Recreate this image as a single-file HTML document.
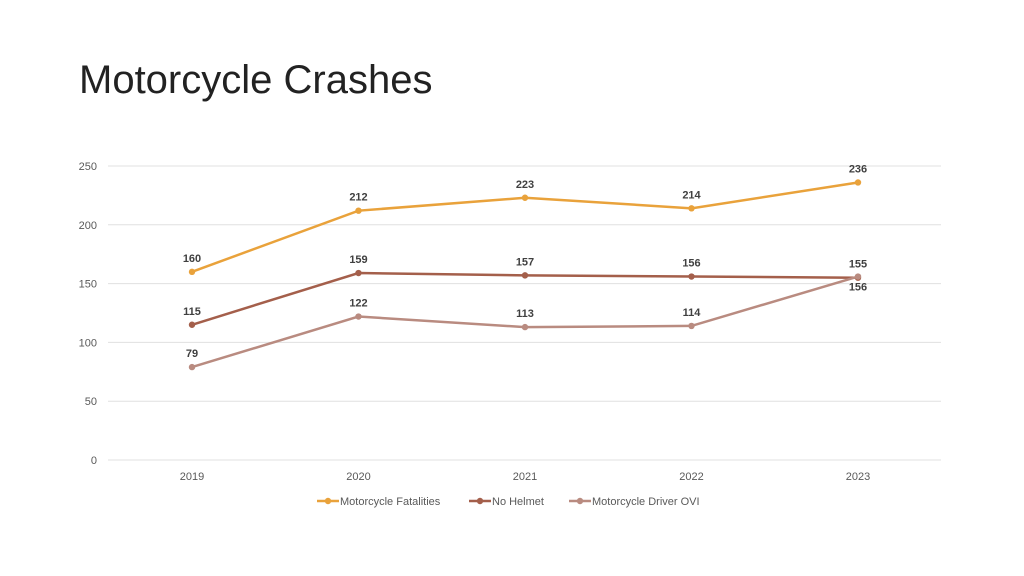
<!DOCTYPE html>
<html><head><meta charset="utf-8"><style>
body{margin:0;background:#fff;width:1024px;height:576px;overflow:hidden;font-family:"Liberation Sans",sans-serif}
h1{position:absolute;left:79px;top:58px;margin:0;font-weight:normal;font-size:40px;color:#222;font-family:"Liberation Sans",sans-serif}
</style></head><body>
<h1>Motorcycle Crashes</h1>
<svg id="c" width="1024" height="576" style="position:absolute;left:0;top:0"></svg>
<script>
const years=["2019","2020","2021","2022","2023"];
const fatalities=[160,212,223,214,236];
const noHelmet=[115,159,157,156,155];
const ovi=[79,122,113,114,156];
const yTicks=[0,50,100,150,200,250];
const seriesNames=["Motorcycle Fatalities","No Helmet","Motorcycle Driver OVI"];
const svg=document.getElementById('c');const NS='http://www.w3.org/2000/svg';
const x=i=>192+i*166.5;const y=v=>460-v*(294/250);
function mk(t,a,p){const e=document.createElementNS(NS,t);for(const k in a)e.setAttribute(k,a[k]);(p||svg).appendChild(e);return e;}
yTicks.forEach(v=>{
const g=mk('line',{x1:108,x2:941,y1:y(v),y2:y(v),stroke:'#e0e0e0','stroke-width':1});


const t=mk('text',{x:97,y:y(v)+4,'text-anchor':'end','font-size':11,fill:'#595959'});t.textContent=v;


});
years.forEach((yr,i)=>{const t=mk('text',{x:x(i),y:480,'text-anchor':'middle','font-size':11,fill:'#595959'});t.textContent=yr;

});
const cols=['#E9A23B','#A45F4B','#B98B80'];
[fatalities,noHelmet,ovi].forEach((d,s)=>{
const pl=mk('polyline',{points:d.map((v,i)=>x(i)+','+y(v)).join(' '),fill:'none',stroke:cols[s],'stroke-width':2.5});


d.forEach((v,i)=>{
const c=mk('circle',{cx:x(i),cy:y(v),r:3.2,fill:cols[s]});


const below=(s==2&&i==4);
const t=mk('text',{x:x(i),y:below?y(v)+14:y(v)-10,'text-anchor':'middle','font-size':11,'font-weight':'bold',fill:'#404040'});t.textContent=v;


});});
const lx=[317,469,569];
seriesNames.forEach((n,s)=>{
const g=mk('g',{});


mk('line',{x1:lx[s],x2:lx[s]+22,y1:501,y2:501,stroke:cols[s],'stroke-width':2.5},g);
mk('circle',{cx:lx[s]+11,cy:501,r:3.2,fill:cols[s]},g);
const t=mk('text',{x:lx[s]+23,y:505,'font-size':11,fill:'#595959'},g);t.textContent=n;
});
</script>
</body></html>
